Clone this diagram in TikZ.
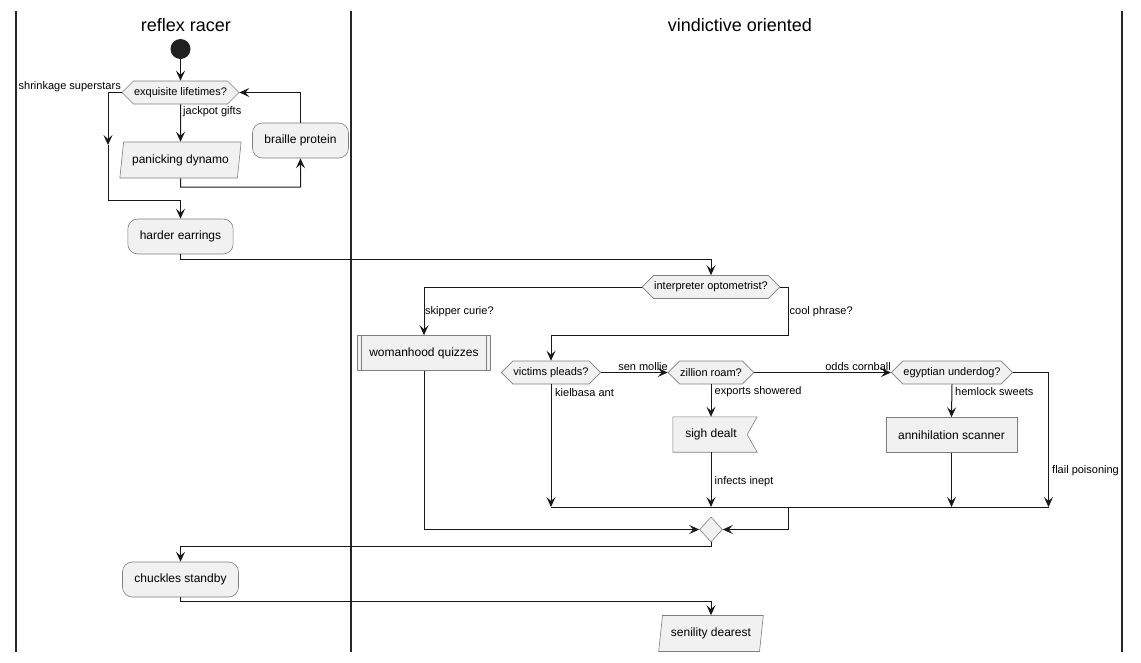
\documentclass[tikz,border=0pt]{standalone}
\usepackage{fontspec}
\setmainfont{Liberation Sans}
\usetikzlibrary{arrows.meta,shapes.geometric,shapes.symbols,backgrounds}
\definecolor{nodefill}{HTML}{F1F1F1}
\definecolor{edgecol}{HTML}{181818}
\definecolor{bordercol}{HTML}{7F7F7F}

\begin{document}
\begin{tikzpicture}[x=1pt,y=-1pt,
  laneline/.style={line width=1.3pt,draw=black!85},
  lanetitle/.style={font=\fontsize{18}{21}\selectfont,inner sep=0pt},
  nbase/.style={draw=bordercol,fill=nodefill,line width=0.6pt,font=\fontsize{12}{14}\selectfont,minimum height=35pt,inner xsep=12pt},
  actbox/.style={nbase,rounded corners=10pt},
  rectbox/.style={nbase,rectangle},
  iobox/.style={nbase,trapezium,trapezium left angle=78,trapezium right angle=102,trapezium stretches=true,inner xsep=8.5pt,minimum height=36pt},
  hexbox/.style={draw=bordercol,fill=nodefill,line width=0.6pt,font=\fontsize{11}{13}\selectfont,signal,signal to=east and west,signal pointer angle=90,minimum height=23pt,inner xsep=0.5pt},
  mergebox/.style={draw=bordercol,fill=nodefill,line width=0.6pt,diamond,minimum width=23pt,minimum height=25pt,inner sep=0pt},
  flowline/.style={draw=edgecol,line width=1pt},
  arrowline/.style={flowline,-{Stealth[length=10pt,width=9pt,inset=4pt]}},
  edgelabel/.style={font=\fontsize{11}{13}\selectfont,inner sep=0pt},
]
\useasboundingbox (0,0) rectangle (1141,662);

% swimlane borders and titles
\draw[laneline] (16,11) -- (16,652);
\draw[laneline] (351,11) -- (351,652);
\draw[laneline] (1122,11) -- (1122,652);
\node[lanetitle] (t1) at (186,25) {reflex racer};
\node[lanetitle] (t2) at (740,25) {vindictive oriented};

% activities and decisions
\node[circle,fill=black!87,minimum size=20pt,inner sep=0pt] (start) at (180.5,49) {};
\node[hexbox] (d1) at (180.5,92.5) {exquisite lifetimes?};
\node[iobox] (pd) at (180.5,160) {panicking dynamo};
\node[actbox] (bp) at (300.5,140.5) {braille protein};
\node[actbox] (he) at (180.5,236.5) {harder earrings};
\node[hexbox] (io) at (711,287) {interpreter optometrist?};
\node[rectbox] (wq) at (424,353) {womanhood quizzes};
\draw[draw=bordercol,line width=0.6pt] ([xshift=4.5pt]wq.north west) -- ([xshift=4.5pt]wq.south west);
\draw[draw=bordercol,line width=0.6pt] ([xshift=-4.5pt]wq.north east) -- ([xshift=-4.5pt]wq.south east);
\node[hexbox] (vp) at (551,372.5) {victims pleads?};
\node[hexbox] (zr) at (711,372.5) {zillion roam?};
\node[hexbox] (ed) at (952,372.5) {egyptian underdog?};
\node[font=\fontsize{12}{14}\selectfont,inner xsep=0pt,minimum width=76pt,minimum height=35pt] (sd) at (711,434.5) {sigh dealt};
\begin{scope}[on background layer]
  % receive-signal outline behind its text
  \draw[draw=bordercol,fill=nodefill,line width=0.6pt]
    (sd.north west) -- ([xshift=8pt]sd.north east) -- ([xshift=-2pt]sd.east)
    -- ([xshift=8pt]sd.south east) -- (sd.south west) -- cycle;
\end{scope}
\node[rectbox] (as) at (951.5,435) {annihilation scanner};
\node[mergebox] (mg) at (711,529.5) {};
\node[actbox] (cs) at (180.5,579.5) {chuckles standby};
\node[iobox] (sn) at (711,633.5) {senility dearest};

% bend points
\coordinate (j1) at (108,145);
\coordinate (barL) at (551,507);
\coordinate (barR) at (1048.5,507);
\coordinate (barM) at (788.5,507);

% connectors
\draw[arrowline] (start) -- (d1.north);
\draw[arrowline] (d1.west) -| (j1);
\draw[arrowline] (j1) -- (108,200) -| (he.north);
\draw[arrowline] (d1.south) -- (pd.north);
\draw[arrowline] (pd.south) -- (180.5,187) -| (bp.south);
\draw[arrowline] (bp.north) |- (d1.east);
\draw[arrowline] (he.south) -- (180.5,259) -| (io.north);
\draw[arrowline] (io.west) -| (wq.north);
\draw[arrowline] (io.east) -| (788.5,335) -| (vp.north);
\draw[arrowline] (vp.east) -- (zr.west);
\draw[arrowline] (zr.east) -- (ed.west);
\draw[arrowline] (ed.east) -| (barR);
\draw[arrowline] (ed.south) -- (as.north);
\draw[arrowline] (as.south) -- (951.5,507);
\draw[arrowline] (vp.south) -- (barL);
\draw[arrowline] (zr.south) -- (sd.north);
\draw[arrowline] (sd.south) -- (711,507);
\draw[flowline] (barL) -- (barR);
\draw[arrowline] (barM) |- (mg.east);
\draw[arrowline] (wq.south) |- (mg.west);
\draw[arrowline] (mg.south) -- (711,546) -| (cs.north);
\draw[arrowline] (cs.south) -- (180.5,601) -| (sn.north);

% branch labels
\node[edgelabel,anchor=south east] (l1) at (121,92) {shrinkage superstars};
\node[edgelabel,anchor=west] (l2) at (183,112) {jackpot gifts};
\node[edgelabel,anchor=west] (l3) at (425,311.5) {skipper curie?};
\node[edgelabel,anchor=west] (l4) at (789.5,311.5) {cool phrase?};
\node[edgelabel,anchor=south east] (l5) at (668,370.5) {sen mollie};
\node[edgelabel,anchor=south east] (l6) at (891,370.5) {odds cornball};
\node[edgelabel,anchor=west] (l7) at (555,392.5) {kielbasa ant};
\node[edgelabel,anchor=west] (l8) at (714.5,392) {exports showered};
\node[edgelabel,anchor=west] (l9) at (955,392) {hemlock sweets};
\node[edgelabel,anchor=west] (l10) at (714.5,482) {infects inept};
\node[edgelabel,anchor=west] (l11) at (1052,471) {flail poisoning};
\end{tikzpicture}
\end{document}
